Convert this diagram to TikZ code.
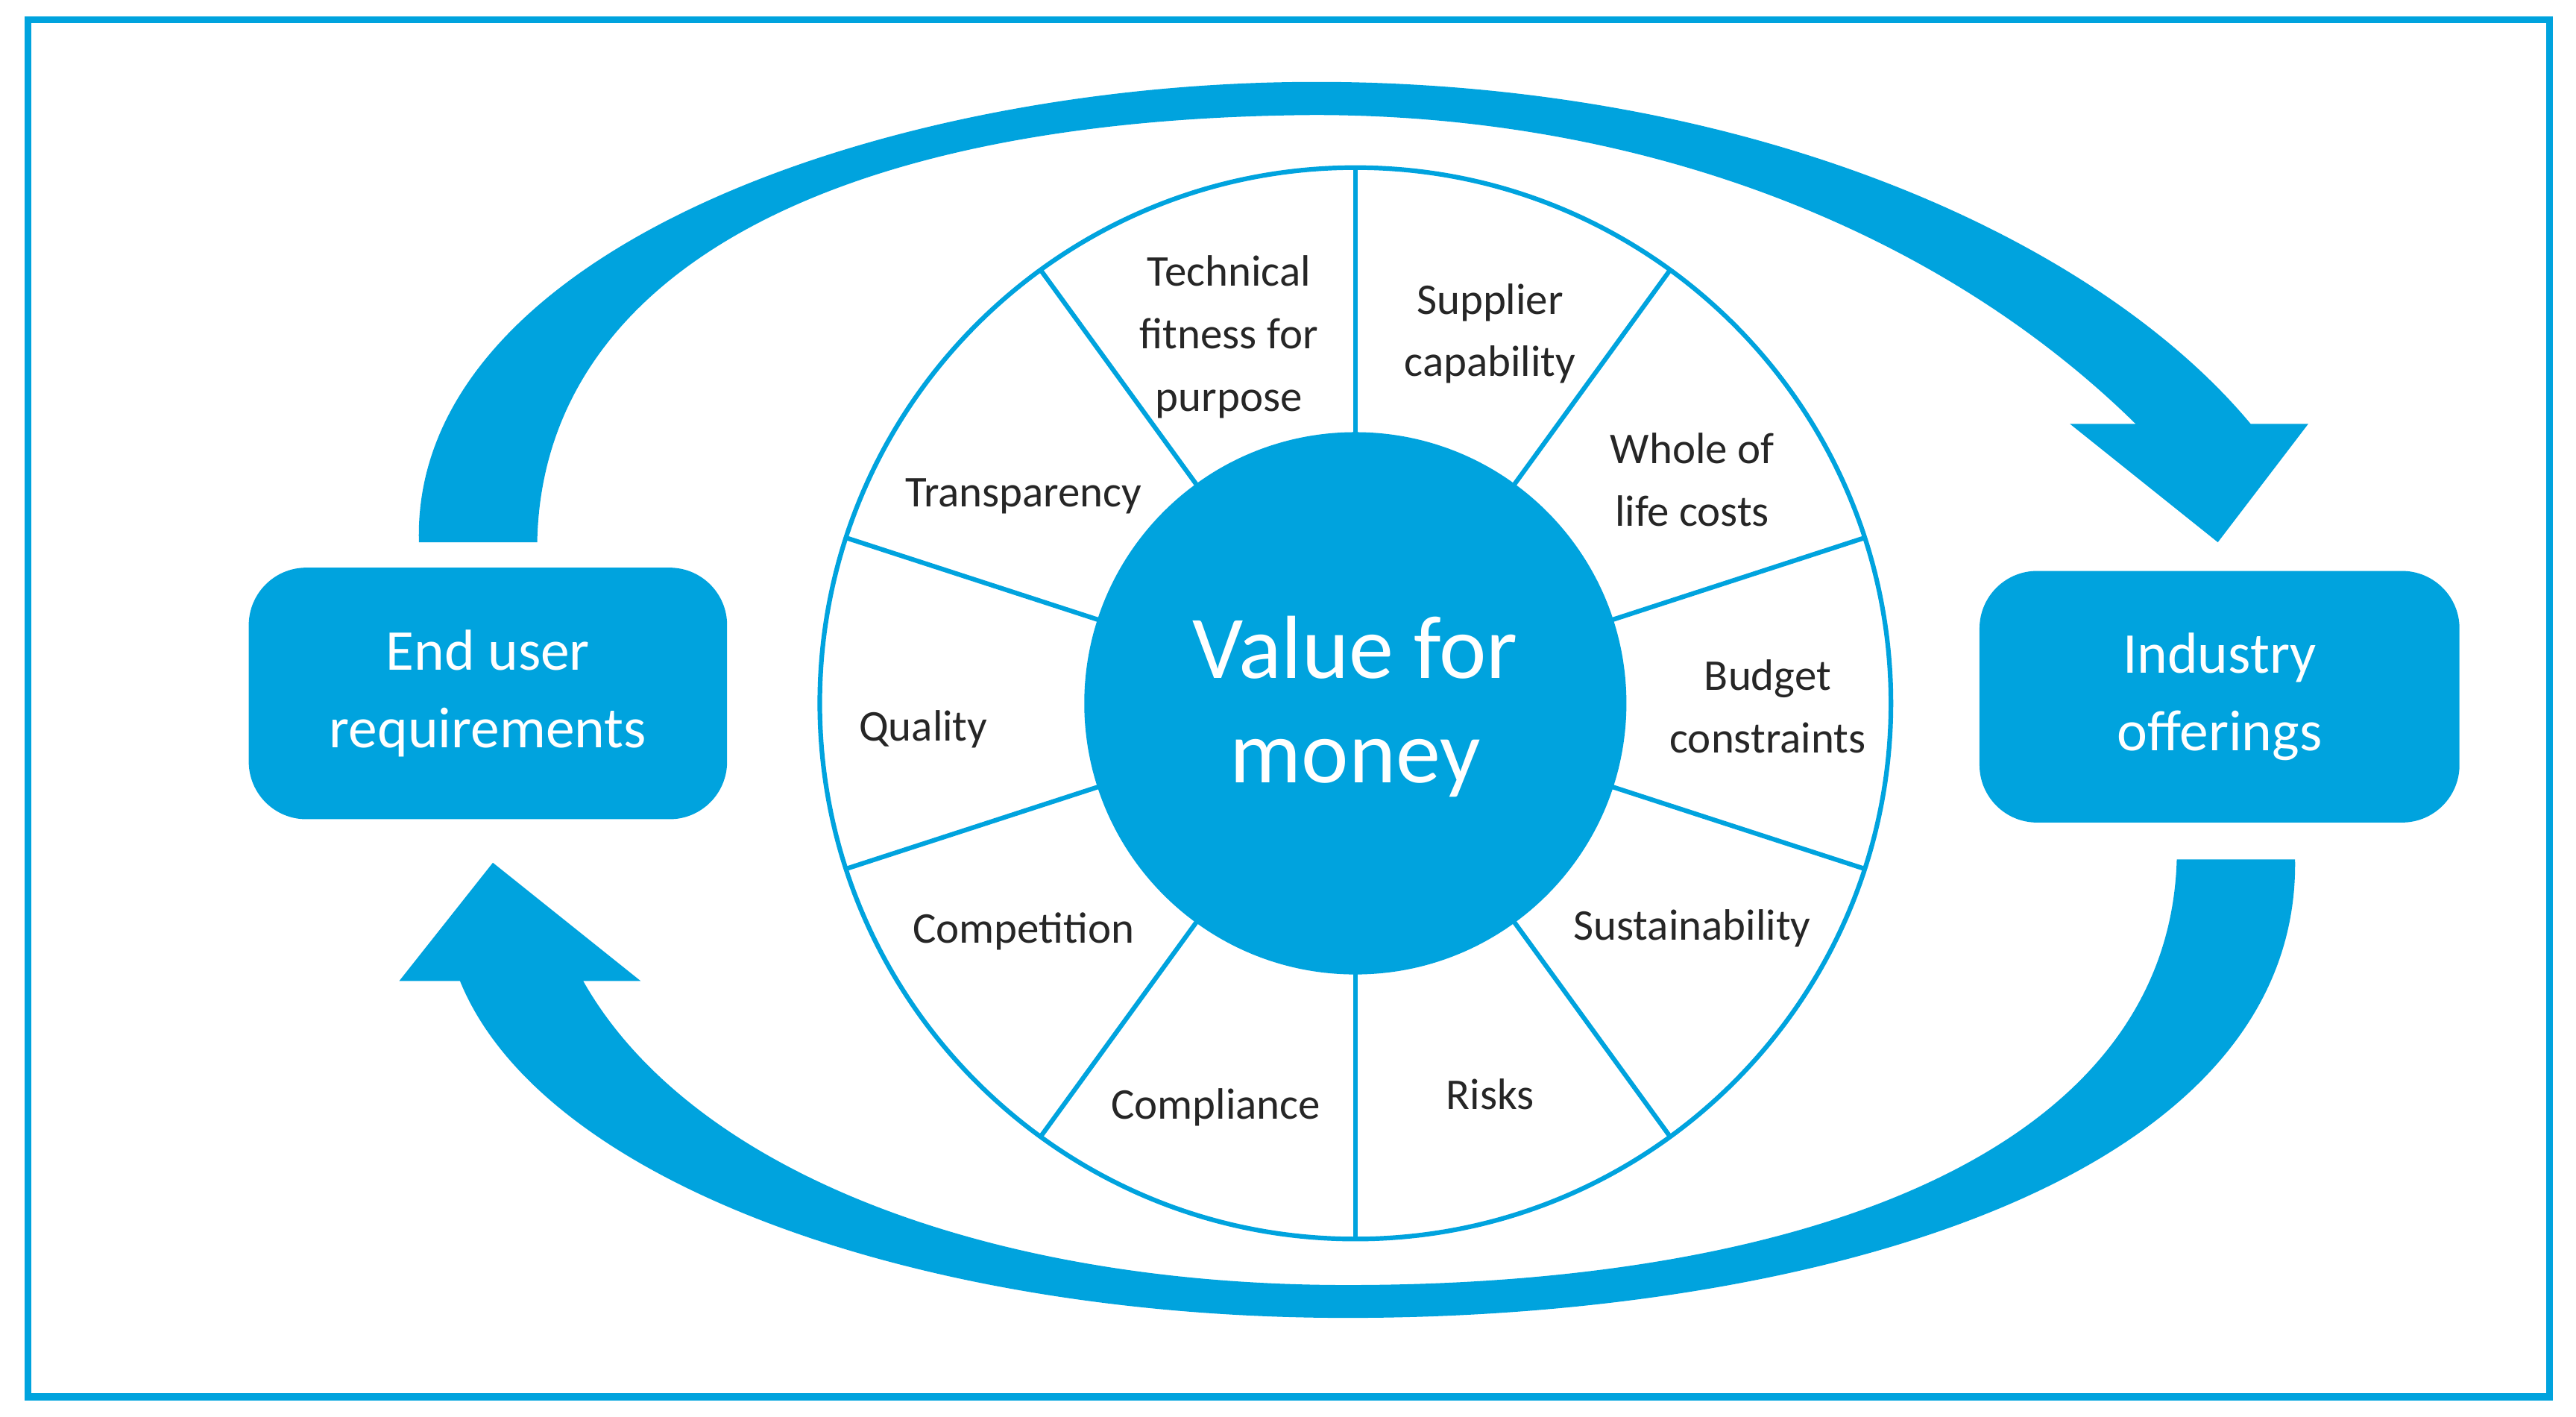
\documentclass[tikz,border=0pt]{standalone}
\usepackage{fontspec}
\setmainfont{Carlito}
\definecolor{mblue}{RGB}{0,163,222}
\begin{document}
\begin{tikzpicture}[x=0.01cm,y=-0.01cm,
  lab/.style={font=\fontsize{7.6}{10.8}\selectfont,align=center,text=black!85},
  box/.style={fill=mblue,rounded corners=0.35cm,text=white,font=\fontsize{10}{13.5}\selectfont,align=center}]
\useasboundingbox (0,0) rectangle (1568,862);
\fill[white] (0,0) rectangle (1568,862);
\draw[mblue,line width=1.2pt] (17,12) rectangle (1552,850);
% top arrow
\fill[mblue] (255,330) .. controls (250,150) and (550,45) .. (820,50) .. controls (1080,55) and (1280,150) .. (1370,258)
  -- (1405,258) -- (1350,330) -- (1260,258) -- (1300,258)
  .. controls (1180,140) and (1000,70) .. (800,70) .. controls (500,72) and (330,170) .. (327,330) -- cycle;
% bottom arrow
\fill[mblue] (1325,523) -- (1397,523) .. controls (1400,720) and (1100,802) .. (820,802) .. controls (560,802) and (330,720) .. (280,597)
  -- (243,597) -- (300,525) -- (390,597) -- (355,597)
  .. controls (420,712) and (600,782) .. (820,782) .. controls (1100,782) and (1320,700) .. (1325,523) -- cycle;
% boxes
\node[box,minimum width=2.91cm,minimum height=1.53cm] (eur) at (297,422) {End user\\requirements};
\node[box,minimum width=2.92cm,minimum height=1.53cm] (ind) at (1351,424) {Industry\\offerings};
% wheel
\coordinate (c) at (825,428);
\draw[mblue,line width=0.8pt] (c) circle (326);
\foreach \a in {90,54,18,-18,-54,-90,-126,-162,162,126}
  \draw[mblue,line width=0.8pt] (c) -- ++(\a:326);
\fill[mblue] (c) circle (165);
\node[text=white,font=\fontsize{15.5}{18}\selectfont,align=center] (vfm) at (825,430) {Value for\\money};
\node[lab] (l1) at (748,205) {Technical\\fitness for\\purpose};
\node[lab] (l2) at (907,203) {Supplier\\capability};
\node[lab] (l3) at (1030,292) {Whole of\\life costs};
\node[lab] (l4) at (1076,430) {Budget\\constraints};
\node[lab] (l5) at (1030,565) {Sustainability};
\node[lab] (l6) at (907,666) {Risks};
\node[lab] (l7) at (740,674) {Compliance};
\node[lab] (l8) at (623,567) {Competition};
\node[lab] (l9) at (562,444) {Quality};
\node[lab] (l10) at (623,302) {Transparency};
\end{tikzpicture}
\end{document}
